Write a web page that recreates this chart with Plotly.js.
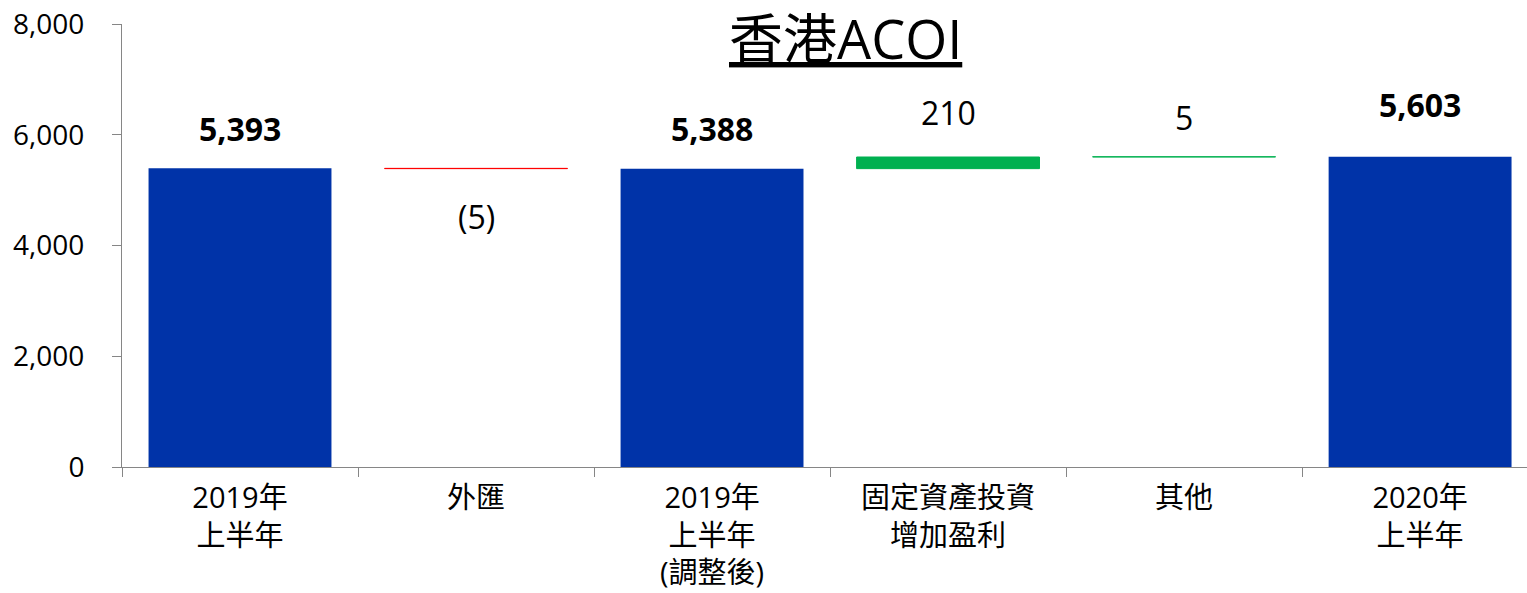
<!DOCTYPE html>
<html>
<head>
<meta charset="utf-8">
<script src="https://cdn.plot.ly/plotly-3.0.1.min.js"></script>
<style>html,body{margin:0;padding:0;background:#fff;}#chart{width:1527px;height:593px;}</style>
</head>
<body>
<div id="chart"></div>
<script>
// ---- data ----
var categories = ["2019年<br>上半年", "外匯", "2019年<br>上半年<br>(調整後)", "固定資產投資<br>增加盈利", "其他", "2020年<br>上半年"];
var measures = ["absolute", "relative", "total", "relative", "relative", "total"];
var deltas = [5393, -5, 0, 210, 5, 0];
var valueLabels = ["5,393", "(5)", "5,388", "210", "5", "5,603"];
var titleText = "香港ACOI";
var yTickVals = [0, 2000, 4000, 6000, 8000];

// ---- styling ----
var FONT = "Open Sans, Noto Sans CJK TC, sans-serif";
var BLUE = "#0033A8", GREEN = "#00B050", RED = "#FF0000", AXIS = "#868686";
var labelShift = [40, -48, 40, 45, 39, 52];

// compute running levels to place labels
var level = 0, labelY = [];
for (var i = 0; i < measures.length; i++) {
  if (measures[i] === "absolute") { level = deltas[i]; }
  else if (measures[i] === "relative") { level += deltas[i]; }
  labelY.push(level);
}

var annotations = categories.map(function (c, i) {
  var isTotal = measures[i] !== "relative";
  return {
    x: c, y: labelY[i], xref: "x", yref: "y",
    text: isTotal ? "<b>" + valueLabels[i] + "</b>" : valueLabels[i],
    showarrow: false, yanchor: "middle", yshift: labelShift[i],
    font: {family: FONT, size: 32, color: "#000"}
  };
});
annotations.push({
  x: 0.5146, y: 0.968, xref: "paper", yref: "paper",
  text: "<u>" + titleText + "</u>", showarrow: false,
  xanchor: "center", yanchor: "middle",
  font: {family: FONT, size: 54, color: "#000"}
});

var trace = {
  type: "waterfall",
  x: categories,
  y: deltas,
  measure: measures,
  width: categories.map(function () { return 0.775; }),
  connector: {visible: false},
  textinfo: "none",
  hoverinfo: "skip",
  increasing: {marker: {color: GREEN, line: {color: GREEN, width: 1}}},
  decreasing: {marker: {color: RED, line: {color: RED, width: 1}}},
  totals: {marker: {color: BLUE, line: {width: 0}}}
};

var layout = {
  width: 1527, height: 593,
  margin: {l: 122, r: 0, t: 24, b: 126, pad: 0},
  paper_bgcolor: "#fff", plot_bgcolor: "#fff",
  showlegend: false,
  xaxis: {
    type: "category", range: [-0.5, 5.453],
    tickson: "boundaries", ticks: "outside", ticklen: 9, tickcolor: AXIS,
    showline: true, linecolor: AXIS, linewidth: 1,
    showgrid: false, zeroline: false, fixedrange: true,
    ticklabelstandoff: 5,
    tickfont: {family: FONT, size: 29, color: "#000"}
  },
  yaxis: {
    range: [0, 8000], tickvals: yTickVals, tickformat: ",",
    ticks: "outside", ticklen: 9, tickcolor: AXIS,
    showline: true, linecolor: AXIS, linewidth: 1,
    showgrid: false, zeroline: false, fixedrange: true,
    ticklabelstandoff: 22,
    tickfont: {family: FONT, size: 28, color: "#000"}
  },
  annotations: annotations
};

Plotly.newPlot("chart", [trace], layout, {displayModeBar: false, staticPlot: true});
</script>
</body>
</html>
